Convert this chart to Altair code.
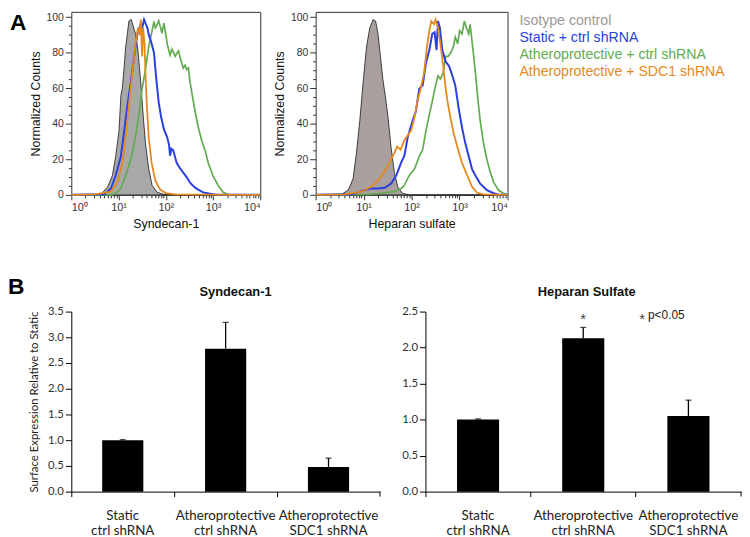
import altair as alt
import pandas as pd

# ---------------- Panel A: flow cytometry histograms ----------------
# e = log10 fluorescence intensity, c = normalized counts
syn_iso_e = [0.0, 0.59, 0.63, 0.77, 0.87, 0.94, 1.01, 1.05, 1.08, 1.12, 1.15, 1.19, 1.22, 1.27, 1.31, 1.36, 1.41, 1.47, 1.52, 1.57, 1.64, 1.71, 1.82, 1.96, 2.4, 4.0]
syn_iso_c = [0, 0, 0.3, 4.5, 10.9, 21.7, 36.2, 56, 60, 72.5, 83, 91.5, 97.8, 98.7, 95, 90.6, 81.5, 63.4, 45.3, 29, 14.5, 5.4, 1.4, 0.3, 0, 0]

syn_blue_e = [0.0, 0.70, 0.84, 0.94, 1.05, 1.12, 1.19, 1.26, 1.33, 1.40, 1.47, 1.50, 1.54, 1.58, 1.61, 1.64, 1.68, 1.71, 1.75, 1.80, 1.85, 1.90, 1.96, 2.03, 2.07, 2.09, 2.12, 2.16, 2.23, 2.30, 2.37, 2.44, 2.51, 2.58, 2.65, 2.79, 3.0, 3.15, 4.0]
syn_blue_c = [0, 0.3, 3.6, 10.9, 21.7, 36.2, 50.7, 63.4, 77.9, 90.6, 96, 94, 98.7, 96, 94.2, 90, 87, 84, 80, 65, 52, 44, 37, 32.4, 28, 22, 26, 25, 18, 15, 12.5, 10, 7, 5, 3.5, 1.4, 0.4, 0, 0]

syn_green_e = [0.0, 0.84, 0.95, 1.05, 1.15, 1.26, 1.36, 1.43, 1.50, 1.57, 1.64, 1.71, 1.75, 1.78, 1.82, 1.85, 1.89, 1.92, 1.96, 1.99, 2.03, 2.09, 2.13, 2.16, 2.20, 2.23, 2.27, 2.30, 2.34, 2.37, 2.41, 2.44, 2.48, 2.51, 2.55, 2.62, 2.69, 2.76, 2.83, 2.90, 3.0, 3.11, 3.21, 3.32, 3.45, 4.0]
syn_green_c = [0, 0, 1, 3.6, 10.9, 19.9, 32.6, 45.3, 59.8, 70.7, 83.4, 92.4, 97.6, 94, 96, 98, 94, 91, 96.7, 92, 85, 78.6, 82, 80.4, 78, 79.5, 81, 77.7, 74, 71.4, 73, 70.5, 71.4, 64, 57.8, 46.9, 37.9, 30.6, 25.2, 17.9, 10.7, 5.3, 1.6, 0.2, 0, 0]

syn_orange_e = [0.0, 0.49, 0.84, 0.98, 1.08, 1.15, 1.22, 1.29, 1.36, 1.41, 1.45, 1.47, 1.50, 1.52, 1.55, 1.57, 1.60, 1.64, 1.70, 1.78, 1.88, 2.0, 2.2, 4.0]
syn_orange_c = [0, 0.3, 1.8, 7.2, 18, 32.6, 50.7, 68.8, 85, 94, 90, 98.7, 77.9, 94, 85, 68, 50, 32, 18, 8, 3, 1, 0.3, 0]

hs_iso_e = [0.0, 0.54, 0.68, 0.78, 0.85, 0.92, 0.99, 1.06, 1.13, 1.20, 1.25, 1.30, 1.35, 1.40, 1.45, 1.51, 1.57, 1.64, 1.71, 1.81, 1.95, 4.0]
hs_iso_c = [0, 0.3, 2.7, 9, 23.5, 41.7, 63.4, 83.3, 94.2, 98.7, 97.8, 90.6, 77.9, 65.2, 56, 43.5, 27.2, 12.7, 4.5, 0.9, 0, 0]

hs_blue_e = [0.0, 0.75, 0.89, 1.02, 1.16, 1.30, 1.44, 1.57, 1.68, 1.78, 1.85, 1.92, 2.02, 2.09, 2.16, 2.23, 2.30, 2.37, 2.43, 2.48, 2.52, 2.55, 2.59, 2.64, 2.71, 2.78, 2.85, 2.91, 2.98, 3.05, 3.12, 3.19, 3.26, 3.33, 3.43, 3.57, 3.71, 3.84, 4.0]
hs_blue_c = [0, 0.3, 1.4, 2.7, 3.6, 3.6, 4, 6.3, 10.9, 18, 22, 32.6, 41.7, 47, 59.8, 61.6, 74.3, 81.5, 90.6, 91.5, 81.5, 97.8, 94, 81.5, 75, 72.5, 67, 61.6, 48.9, 38, 29, 21.7, 14.5, 10.9, 6.3, 2.7, 0.9, 0, 0]

hs_orange_e = [0.0, 0.61, 0.96, 1.16, 1.33, 1.47, 1.57, 1.64, 1.70, 1.77, 1.85, 1.92, 1.99, 2.06, 2.12, 2.19, 2.26, 2.32, 2.37, 2.41, 2.47, 2.50, 2.55, 2.60, 2.66, 2.71, 2.76, 2.81, 2.88, 2.95, 3.05, 3.16, 3.26, 3.36, 3.5, 4.0]
hs_orange_c = [0, 0.3, 1.8, 4.5, 9, 14.5, 19.9, 23.5, 27.2, 25.4, 30.8, 33.5, 36.2, 43.5, 52.5, 59.8, 68.8, 83.3, 92.4, 97.8, 96, 98.7, 94.2, 85, 72.5, 59.8, 50.7, 43.5, 34.4, 27.2, 18, 10.9, 4.5, 1.3, 0.3, 0]

hs_green_e = [0.0, 1.09, 1.37, 1.64, 1.78, 1.85, 1.95, 2.06, 2.16, 2.23, 2.30, 2.37, 2.43, 2.50, 2.55, 2.60, 2.66, 2.71, 2.76, 2.81, 2.87, 2.91, 2.96, 3.00, 3.05, 3.10, 3.14, 3.19, 3.22, 3.28, 3.33, 3.38, 3.43, 3.50, 3.57, 3.64, 3.71, 3.81, 3.91, 4.0]
hs_green_c = [0, 0.3, 0.9, 1.8, 3.6, 5.4, 10.9, 14.5, 21.7, 25.4, 36.2, 45.3, 52.5, 61.6, 67, 65.2, 68.8, 77.9, 77.9, 79.7, 83.3, 88.8, 85, 92.4, 90.6, 97.8, 94.2, 90.6, 96, 81.5, 68.8, 54.3, 41.7, 29, 19.9, 12.7, 7.2, 2.7, 0.9, 0.3]

legend_labels = ["Isotype control", "Static + ctrl shRNA",
                 "Atheroprotective + ctrl shRNA", "Atheroprotective + SDC1 shRNA"]
legend_colors = ["#9a9a9a", "#2a3fe0", "#62ab50", "#e5891f"]

x_ticks = [m * 10 ** k for k in range(4) for m in range(1, 10)] + [10000]
y_ticks = list(range(0, 101, 5))

# ---------------- Panel B: bar charts ----------------
conds = ["Static|ctrl shRNA", "Atheroprotective|ctrl shRNA", "Atheroprotective|SDC1 shRNA"]
syn_mean = [1.0, 2.78, 0.48]
syn_err = [0.01, 0.51, 0.17]
hs_mean = [1.0, 2.13, 1.05]
hs_err = [0.01, 0.15, 0.22]
syn_yvals = [0.0, 0.5, 1.0, 1.5, 2.0, 2.5, 3.0, 3.5]
hs_yvals = [0.0, 0.5, 1.0, 1.5, 2.0, 2.5]

SANS = "Liberation Sans"
HUM = "Lato"
one = pd.DataFrame({"k": [0]})


def series_df(e, c):
    return pd.DataFrame({"e": e, "c": c})


def hist_panel(iso, green, blue, orange, xtitle, width, iso_fill):
    xs = alt.Scale(type="log", domain=[1, 10000], nice=False)
    ys = alt.Scale(domain=[0, 103], nice=False, zero=True)
    maj_test = "indexof([1,10,100,1000,10000], datum.value) >= 0"
    xaxis = alt.Axis(
        values=x_ticks, title=xtitle, domain=False, grid=False,
        labelExpr=("datum.value == 1 ? '10⁰' : datum.value == 10 ? '10¹' : datum.value == 100 ? '10²'"
                   " : datum.value == 1000 ? '10³' : datum.value == 10000 ? '10⁴' : ''"),
        labelOverlap=False, labelFont=SANS, labelFontSize=11, labelColor="#333",
        labelPadding=2, tickColor="#333",
        tickSize={"condition": {"test": maj_test, "value": 5}, "value": 3},
        titleFont=SANS, titleFontSize=12.5, titleFontWeight="normal", titleColor="#111", titlePadding=5,
    )
    yaxis = alt.Axis(
        values=y_ticks, title="Normalized Counts", domain=False, grid=False,
        labelExpr="datum.value % 20 == 0 ? datum.label : ''", labelOverlap=False,
        labelFont=SANS, labelFontSize=10.5, labelColor="#333", labelPadding=2, tickColor="#333",
        tickSize={"condition": {"test": "datum.value % 20 == 0", "value": 6}, "value": 3},
        titleFont=SANS, titleFontSize=12.5, titleFontWeight="normal", titleColor="#111", titlePadding=4,
    )
    xenc = alt.X("x:Q", scale=xs, axis=xaxis)
    yenc = alt.Y("c:Q", scale=ys, axis=yaxis, stack=None)
    area = alt.Chart(series_df(*iso)).transform_calculate(x="pow(10, datum.e)").mark_area(
        color=iso_fill, stroke="#1a1a1a", strokeWidth=0.8, opacity=1).encode(x=xenc, y=yenc)
    lines = []
    for data, col, sw in [(green, legend_colors[2], 1.7), (blue, legend_colors[1], 2.0),
                          (orange, legend_colors[3], 1.8)]:
        lines.append(alt.Chart(series_df(*data)).transform_calculate(x="pow(10, datum.e)").mark_line(
            color=col, strokeWidth=sw).encode(x=xenc, y=yenc))
    return alt.layer(area, *lines).properties(width=width, height=185)


hist1 = hist_panel((syn_iso_e, syn_iso_c), (syn_green_e, syn_green_c), (syn_blue_e, syn_blue_c),
                   (syn_orange_e, syn_orange_c), "Syndecan-1", 191, "#a8a8a8")
hist2 = hist_panel((hs_iso_e, hs_iso_c), (hs_green_e, hs_green_c), (hs_blue_e, hs_blue_c),
                   (hs_orange_e, hs_orange_c), "Heparan sulfate", 194, "#a99f9f")

label_a = alt.Chart(one).mark_text(text="A", font=SANS, fontSize=23, fontWeight="bold",
                                   align="left", baseline="top", color="black").encode(
    x=alt.value(-62), y=alt.value(0))
hist1 = alt.layer(hist1, label_a).properties(
    view=alt.ViewBackground(stroke="#333", strokeWidth=1))

legend_df = pd.DataFrame({"label": legend_labels})
legend = alt.Chart(legend_df).mark_text(font=SANS, fontSize=14.3, align="left", baseline="middle").encode(
    x=alt.value(206),
    y=alt.Y("label:N", sort=legend_labels, axis=None, scale=alt.Scale(range=[9, 61], padding=0)),
    color=alt.Color("label:N", scale=alt.Scale(domain=legend_labels, range=legend_colors), legend=None),
    text="label:N",
)
hist2 = alt.layer(hist2, legend).resolve_scale(y="independent", color="independent").properties(
    view=alt.ViewBackground(stroke="#333", strokeWidth=1))


def bar_panel(means, errs, yvals, ymax, width, title, title_x, ytitle, extra_fn):
    df = pd.DataFrame({"cond": conds, "mean": means, "top": [m + e for m, e in zip(means, errs)]})
    xenc = alt.X("cond:N", sort=conds, scale=alt.Scale(paddingInner=0, paddingOuter=0),
                 axis=alt.Axis(title=None, labelAngle=0, labelExpr="split(datum.label, '|')",
                               bandPosition=0, tickSize=5, tickColor="black", domainColor="black",
                               labelFont=HUM, labelFontSize=13.5, labelColor="#222",
                               labelLineHeight=15.5, labelPadding=12, labelBaseline="top"))
    yaxis_kw = dict(values=yvals, format=".1f", grid=False, tickSize=6, tickColor="black",
                    domainColor="black", labelFont=HUM, labelFontSize=11.5, labelColor="#333",
                    labelPadding=2, labelOverlap=False, tickCount=len(yvals))
    if ytitle:
        yaxis_kw.update(title=ytitle, titleFont=HUM, titleFontSize=11.5, titleFontWeight="normal",
                        titleColor="#222", titlePadding=8)
    else:
        yaxis_kw.update(title=None)
    yscale = alt.Scale(domain=[0, ymax], nice=False)
    yaxis = alt.Axis(**yaxis_kw)
    yenc = alt.Y("mean:Q", scale=yscale, axis=yaxis)
    bars = alt.Chart(df).mark_bar(color="black", width=alt.RelativeBandSize(0.4)).encode(x=xenc, y=yenc)
    err = alt.Chart(df).mark_rule(color="black", strokeWidth=1.3).encode(x=xenc, y=yenc, y2="top:Q")
    cap = alt.Chart(df).mark_tick(color="black", thickness=1.3, size=6).encode(
        x=xenc, y=alt.Y("top:Q", scale=yscale, axis=yaxis))
    end_tick = alt.Chart(one).mark_rule(color="black").encode(
        x=alt.value(width), y=alt.value(182), y2=alt.value(187))
    ttl = alt.Chart(one).mark_text(text=title, font=SANS, fontSize=13, fontWeight="bold",
                                   color="#111", align="center", baseline="alphabetic").encode(
        x=alt.value(title_x), y=alt.value(-16))
    extra = extra_fn(xenc, yscale, yaxis)
    return alt.layer(bars, err, cap, end_tick, ttl, *extra).properties(width=width, height=182)


def extra_b(xenc, yscale, yaxis):
    label_b = alt.Chart(one).mark_text(text="B", font=SANS, fontSize=23, fontWeight="bold",
                                       align="left", baseline="middle", color="black").encode(
        x=alt.value(-64), y=alt.value(-25))
    return [label_b]


# significance marks
sig_df = pd.DataFrame({"cond": [conds[1]], "y": [2.45]})


def extra_sig(xenc, yscale, yaxis):
    yenc = alt.Y("y:Q", scale=yscale, axis=yaxis)
    star = alt.Chart(sig_df).mark_text(text="*", font=SANS, fontSize=15, color="#444",
                                       baseline="middle", dy=4).encode(x=xenc, y=yenc)
    note_star = alt.Chart(sig_df).mark_text(text="*", font=SANS, fontSize=15, color="#444",
                                            baseline="middle", dy=4).encode(x=alt.value(219), y=yenc)
    note = alt.Chart(sig_df).mark_text(text="p<0.05", font=SANS, fontSize=12, color="#222",
                                       align="left", baseline="middle").encode(x=alt.value(225), y=yenc)
    return [star, note_star, note]


bar1 = bar_panel(syn_mean, syn_err, syn_yvals, 3.5, 312, "Syndecan-1", 166,
                 "Surface Expression Relative to Static", extra_b)
bar2 = bar_panel(hs_mean, hs_err, hs_yvals, 2.5, 319, "Heparan Sulfate", 163, None, extra_sig)

top = alt.hconcat(hist1, hist2, spacing=56, bounds="flush")
bottom = alt.hconcat(bar1, bar2, spacing=46, bounds="flush")

chart = alt.vconcat(top, bottom, spacing=46).properties(
    padding={"left": 0, "top": 0, "right": 0, "bottom": 0}
).configure_view(strokeWidth=0)

chart.save("out.html", embed_options={"renderer": "svg", "actions": False})
